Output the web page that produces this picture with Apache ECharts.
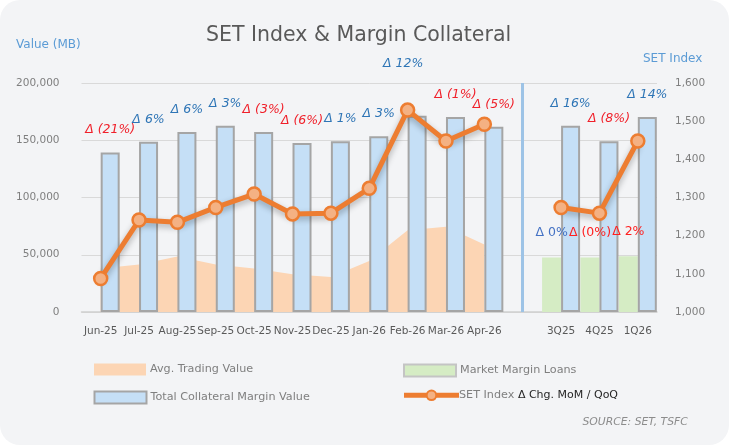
<!DOCTYPE html>
<html>
<head>
<meta charset="utf-8">
<script src="https://cdn.jsdelivr.net/npm/echarts@6/dist/echarts.min.js"></script>
<style>
  html, body { margin: 0; padding: 0; background: #ffffff; }
  #chart { width: 729px; height: 445px; }
</style>
</head>
<body>
<div id="chart"></div>
<script>
// categories: 11 months, a spacer, then 3 quarters
var categories = ['Jun-25', 'Jul-25', 'Aug-25', 'Sep-25', 'Oct-25', 'Nov-25', 'Dec-25', 'Jan-26', 'Feb-26', 'Mar-26', 'Apr-26', '', '3Q25', '4Q25', '1Q26'];
var avgTradingValue = [38000, 41500, 48500, 41500, 38000, 33000, 30500, 44500, 71500, 74500, 59000, null, null, null, null];
var marginLoans = [null, null, null, null, null, null, null, null, null, null, null, null, 47700, 47500, 48600];
var collateral = [139400, 148600, 157300, 162600, 157300, 147700, 149200, 153600, 171300, 170400, 161700, null, 162600, 149200, 170400];
var setIndex = [1088, 1241, 1235, 1274, 1309, 1257, 1259, 1324, 1529, 1448, 1492, null, 1274, 1259, 1448];
// change labels
var collateralChg = ['(21%)', '6%', '6%', '3%', '(3%)', '(6%)', '1%', '3%', '12%', '(1%)', '(5%)', '', '16%', '(8%)', '14%'];
var loanChg = ['', '', '', '', '', '', '', '', '', '', '', '', '0%', '(0%)', '2%'];
var loanTone = ['', '', '', '', '', '', '', '', '', '', '', '', 'up', 'down', 'down'];

var FONT = 'DejaVu Sans';
var chart = echarts.init(document.getElementById('chart'));

//collateral bars, label of Feb is pushed above the line marker
var collateralData = collateral.map(function (v, i) {
  if (i === 8) {
    return { value: v, label: { distance: 46, offset: [-14, 0] } };
  }
  return v;
});

var legendText = { fontFamily: FONT, fontSize: 11.2, color: '#7f7f7f', padding: [0, 0, 0, -1] };

var option = {
  animation: false,
  backgroundColor: 'transparent',
  textStyle: { fontFamily: FONT },
  graphic: [
    {
      type: 'rect',
      z: -10,
      silent: true,
      shape: { x: 0, y: 0, width: 729, height: 445, r: 20 },
      style: { fill: '#f3f4f6' }
    }
  ],
  title: [
    {
      text: 'SET Index & Margin Collateral',
      left: 206,
      top: 25,
      padding: 0,
      textStyle: { fontFamily: FONT, fontSize: 20.5, fontWeight: 'normal', color: '#595959' }
    },
    {
      text: 'Value (MB)',
      left: 16,
      top: 39,
      padding: 0,
      textStyle: { fontFamily: FONT, fontSize: 12, fontWeight: 'normal', color: '#5b9bd5' }
    },
    {
      text: 'SET Index',
      left: 643,
      top: 53,
      padding: 0,
      textStyle: { fontFamily: FONT, fontSize: 12, fontWeight: 'normal', color: '#5b9bd5' }
    },
    {
      text: 'SOURCE: SET, TSFC',
      left: 582.5,
      top: 417,
      padding: 0,
      textStyle: { fontFamily: FONT, fontSize: 10.8, fontWeight: 'normal', fontStyle: 'italic', color: '#8c8c8c' }
    }
  ],
  legend: [
    {
      left: 94, top: 363.5, padding: 0, itemWidth: 52, itemHeight: 12, itemGap: 4, icon: 'rect',
      textStyle: legendText,
      data: ['Avg. Trading Value']
    },
    {
      left: 93.5, top: 390.5, padding: 0, itemWidth: 52, itemHeight: 12, itemGap: 4, icon: 'rect',
      textStyle: legendText,
      data: [{ name: 'Total Collateral Margin Value', itemStyle: { borderColor: '#a5a5a5', borderWidth: 2 } }]
    },
    {
      left: 403, top: 363.5, padding: 0, itemWidth: 52, itemHeight: 12, itemGap: 4, icon: 'rect',
      textStyle: legendText,
      data: [{ name: 'Market Margin Loans', itemStyle: { borderColor: '#c4c4c4', borderWidth: 2 } }]
    },
    {
      left: 401.5, top: 389.5, padding: 0, itemWidth: 55, itemHeight: 12, itemGap: 4,
      lineStyle: { width: 5 },
      textStyle: {
        fontFamily: FONT, fontSize: 11.2, color: '#7f7f7f', padding: [0, 0, 0, -5],
        rich: {
          a: { fontFamily: FONT, fontSize: 11.2, color: '#7f7f7f' },
          b: { fontFamily: FONT, fontSize: 11, color: '#262626' }
        }
      },
      formatter: function (name) {
        return '{a|' + name + '} {b|Δ Chg. MoM / QoQ}';
      },
      data: ['SET Index']
    }
  ],
  grid: { left: 81.5, right: 72, top: 83, bottom: 133, containLabel: false },
  xAxis: {
    type: 'category',
    data: categories,
    boundaryGap: true,
    axisTick: { show: false },
    axisLine: { lineStyle: { color: '#d0d0d0', width: 1.5 } },
    axisLabel: { fontFamily: FONT, fontSize: 10.5, color: '#595959', margin: 14, interval: 0 }
  },
  yAxis: [
    {
      type: 'value',
      min: 0,
      max: 200000,
      interval: 50000,
      axisLine: { show: false },
      axisTick: { show: false },
      splitLine: { lineStyle: { color: '#d9d9d9', width: 1 } },
      axisLabel: { fontFamily: FONT, fontSize: 10.5, color: '#7f7f7f', margin: 22 }
    },
    {
      type: 'value',
      min: 1000,
      max: 1600,
      interval: 100,
      axisLine: { show: false },
      axisTick: { show: false },
      splitLine: { show: false },
      axisLabel: { fontFamily: FONT, fontSize: 10.5, color: '#7f7f7f', margin: 18 }
    }
  ],
  series: [
    {
      name: 'Avg. Trading Value',
      type: 'line',
      data: avgTradingValue,
      symbol: 'none',
      lineStyle: { width: 0, color: '#fcd5b4' },
      itemStyle: { color: '#fcd5b4' },
      areaStyle: { color: '#fcd5b4', opacity: 1 },
      //divider between monthly and quarterly part, on the spacer category
      markLine: {
        silent: true,
        symbol: 'none',
        label: { show: false },
        lineStyle: { color: '#9dc3e6', width: 3, type: 'solid' },
        data: [{ xAxis: 11 }]
      },
      z: 1
    },
    {
      name: 'Market Margin Loans',
      type: 'bar',
      data: marginLoans,
      barWidth: 19,
      barGap: '0%',
      itemStyle: { color: '#d5ecc4' },
      label: {
        show: true,
        position: 'top',
        distance: 18,
        fontFamily: FONT,
        fontSize: 12.5,
        formatter: function (p) {
          var t = loanChg[p.dataIndex];
          if (!t) return '';
          return '{' + loanTone[p.dataIndex] + '|Δ ' + t + '}';
        },
        rich: {
          up: { fontFamily: FONT, fontSize: 12.5, color: '#4472c4' },
          down: { fontFamily: FONT, fontSize: 12.5, color: '#ff1f1f' }
        }
      },
      z: 2
    },
    {
      name: 'Total Collateral Margin Value',
      type: 'bar',
      data: collateralData,
      barWidth: 19,
      barGap: '0%',
      itemStyle: { color: '#c5dff6', borderColor: '#a5a5a5', borderWidth: 2 },
      label: {
        show: true,
        position: 'top',
        distance: 16,
        fontFamily: FONT,
        fontSize: 12.5,
        formatter: function (p) {
          var t = collateralChg[p.dataIndex];
          if (!t) return '';
          var tone = t.charAt(0) === '(' ? 'down' : 'up';
          return '{' + tone + '|Δ ' + t + '}';
        },
        rich: {
          up: { fontFamily: FONT, fontSize: 12.5, fontStyle: 'italic', color: '#2e75b6' },
          down: { fontFamily: FONT, fontSize: 12.5, fontStyle: 'italic', color: '#f0202a' }
        }
      },
      z: 2
    },
    {
      name: 'SET Index',
      type: 'line',
      yAxisIndex: 1,
      data: setIndex,
      connectNulls: false,
      symbol: 'circle',
      symbolSize: 13,
      lineStyle: {
        color: '#ed7d31',
        width: 5,
        shadowColor: 'rgba(0, 0, 0, 0.3)',
        shadowBlur: 6,
        shadowOffsetY: 3
      },
      itemStyle: { color: '#f4b183', borderColor: '#ed7d31', borderWidth: 2.5 },
      z: 5
    }
  ]
};

chart.setOption(option);
</script>
</body>
</html>
